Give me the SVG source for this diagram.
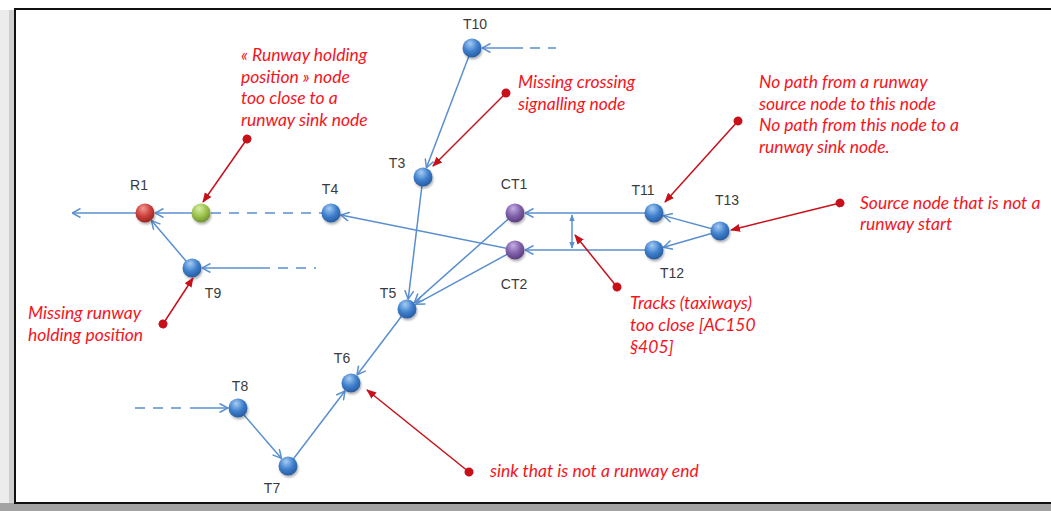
<svg xmlns="http://www.w3.org/2000/svg" width="1051" height="511" viewBox="0 0 1051 511">
  <style>
    .lbl { font-family: "Liberation Sans", Arial, sans-serif; font-size: 14px; fill: #3a3a3a; text-anchor: middle; }
    .note { font-family: "Lato", "Open Sans", sans-serif; font-style: italic; font-size: 17.5px; fill: #f5141e; }
    .edge { stroke: #5a8fcf; stroke-width: 1.5; fill: none; marker-end: url(#open); }
    .plain { stroke: #5a8fcf; stroke-width: 1.5; fill: none; }
    .dash { stroke: #5a8fcf; stroke-width: 1.5; fill: none; stroke-dasharray: 10 8; }
    .ptr { stroke: #c8101a; stroke-width: 1.5; fill: none; marker-start: url(#dot); marker-end: url(#tri); }
  </style>
  <defs>
    <marker id="open" viewBox="0 0 10 10" refX="9.5" refY="5" markerWidth="10" markerHeight="10" markerUnits="userSpaceOnUse" orient="auto">
      <path d="M1,0.5 L9.5,5 L1,9.5" fill="none" stroke="#5a8fcf" stroke-width="1.5"/>
    </marker>
    <marker id="tri" viewBox="0 0 10 10" refX="9" refY="5" markerWidth="10" markerHeight="10" markerUnits="userSpaceOnUse" orient="auto">
      <path d="M0,1 L10,5 L0,9 Z" fill="#c8101a"/>
    </marker>
    <marker id="dot" viewBox="0 0 10 10" refX="5" refY="5" markerWidth="9" markerHeight="9" markerUnits="userSpaceOnUse" orient="auto">
      <circle cx="5" cy="5" r="5" fill="#c8101a"/>
    </marker>
    <marker id="small" viewBox="0 0 10 10" refX="9" refY="5" markerWidth="7" markerHeight="7" markerUnits="userSpaceOnUse" orient="auto">
      <path d="M0,1 L10,5 L0,9 Z" fill="#5a8fcf"/>
    </marker>
    <radialGradient id="gBlue" cx="0.42" cy="0.35" r="0.7" fx="0.4" fy="0.25">
      <stop offset="0" stop-color="#a6cdf5"/>
      <stop offset="0.55" stop-color="#3f7fcc"/>
      <stop offset="1" stop-color="#24579a"/>
    </radialGradient>
    <radialGradient id="gRed" cx="0.42" cy="0.35" r="0.7" fx="0.4" fy="0.25">
      <stop offset="0" stop-color="#f09a96"/>
      <stop offset="0.55" stop-color="#cc3f3a"/>
      <stop offset="1" stop-color="#8e2420"/>
    </radialGradient>
    <radialGradient id="gGreen" cx="0.42" cy="0.35" r="0.7" fx="0.4" fy="0.25">
      <stop offset="0" stop-color="#d8f0a6"/>
      <stop offset="0.55" stop-color="#9cc24c"/>
      <stop offset="1" stop-color="#6a8a2c"/>
    </radialGradient>
    <radialGradient id="gPurple" cx="0.42" cy="0.35" r="0.7" fx="0.4" fy="0.25">
      <stop offset="0" stop-color="#c6aee6"/>
      <stop offset="0.55" stop-color="#7f60a8"/>
      <stop offset="1" stop-color="#55397a"/>
    </radialGradient>
    <filter id="sh" x="-50%" y="-50%" width="200%" height="200%">
      <feDropShadow dx="1" dy="2" stdDeviation="1.2" flood-color="#000" flood-opacity="0.3"/>
    </filter>
  </defs>

  <!-- page frame with shadow -->
  <rect x="0" y="0" width="1051" height="511" fill="#ffffff"/>
  <rect x="0" y="10" width="15" height="501" fill="#ececec"/>
  <rect x="9" y="10" width="5" height="501" fill="#cfcfcf"/>
  <rect x="0" y="503" width="1051" height="8" fill="#a3a3a3"/>
  <rect x="15" y="9" width="1050" height="494" fill="#ffffff" stroke="#111" stroke-width="2"/>

  <!-- connectors -->
  <g id="connectors">
    <line class="edge" x1="145" y1="213" x2="72" y2="213"/>
    <line class="edge" x1="192" y1="213" x2="155" y2="213"/>
    <line class="dash" x1="211" y1="213" x2="322" y2="213"/>
    <line class="edge" x1="192" y1="268" x2="151.5" y2="220.6"/>
    <line class="dash" x1="278" y1="268" x2="316" y2="268"/>
    <line class="edge" x1="270" y1="268" x2="202" y2="268"/>
    <line class="dash" x1="530" y1="48" x2="556" y2="48"/>
    <line class="edge" x1="523" y1="48" x2="482" y2="48"/>
    <line class="edge" x1="472" y1="48" x2="426.4" y2="167.8"/>
    <line class="edge" x1="423" y1="177" x2="408.2" y2="299.1"/>
    <line class="edge" x1="515" y1="213" x2="414.5" y2="302.4"/>
    <line class="edge" x1="515" y1="250" x2="415.8" y2="304.2"/>
    <line class="edge" x1="515" y1="250" x2="340.8" y2="215"/>
    <line class="edge" x1="654" y1="213" x2="525" y2="213"/>
    <line class="edge" x1="654" y1="250" x2="525" y2="250"/>
    <line class="edge" x1="720" y1="231" x2="663.6" y2="215.6"/>
    <line class="edge" x1="720" y1="231" x2="663.6" y2="247.2"/>
    <line class="edge" x1="407" y1="309" x2="357" y2="375"/>
    <line class="edge" x1="238" y1="408" x2="281.5" y2="458.4"/>
    <line class="edge" x1="288" y1="466" x2="345" y2="391"/>
    <line class="dash" x1="135" y1="408" x2="186" y2="408"/>
    <line class="edge" x1="190" y1="408" x2="228" y2="408"/>
    <!-- spacing gauge between the two tracks -->
    <line class="plain" x1="572" y1="232" x2="572" y2="215" marker-end="url(#small)"/>
    <line class="plain" x1="572" y1="232" x2="572" y2="248" marker-end="url(#small)"/>
  </g>

  <!-- nodes -->
  <g id="R1"><circle cx="145" cy="213" r="9.5" fill="url(#gRed)" filter="url(#sh)"/><text class="lbl" x="139" y="190">R1</text></g>
  <g id="HP"><circle cx="201" cy="213" r="9.5" fill="url(#gGreen)" filter="url(#sh)"/></g>
  <g id="T4"><circle cx="331" cy="213" r="9.5" fill="url(#gBlue)" filter="url(#sh)"/><text class="lbl" x="330" y="194">T4</text></g>
  <g id="T9"><circle cx="192" cy="268" r="9.5" fill="url(#gBlue)" filter="url(#sh)"/><text class="lbl" x="213" y="298">T9</text></g>
  <g id="T10"><circle cx="472" cy="48" r="9.5" fill="url(#gBlue)" filter="url(#sh)"/><text class="lbl" x="475" y="29">T10</text></g>
  <g id="T3"><circle cx="423" cy="177" r="9.5" fill="url(#gBlue)" filter="url(#sh)"/><text class="lbl" x="397" y="168">T3</text></g>
  <g id="CT1"><circle cx="515" cy="213" r="9.5" fill="url(#gPurple)" filter="url(#sh)"/><text class="lbl" x="514" y="189">CT1</text></g>
  <g id="CT2"><circle cx="515" cy="250" r="9.5" fill="url(#gPurple)" filter="url(#sh)"/><text class="lbl" x="514" y="289">CT2</text></g>
  <g id="T11"><circle cx="654" cy="213" r="9.5" fill="url(#gBlue)" filter="url(#sh)"/><text class="lbl" x="643" y="195">T11</text></g>
  <g id="T12"><circle cx="654" cy="250" r="9.5" fill="url(#gBlue)" filter="url(#sh)"/><text class="lbl" x="672" y="278">T12</text></g>
  <g id="T13"><circle cx="720" cy="231" r="9.5" fill="url(#gBlue)" filter="url(#sh)"/><text class="lbl" x="727" y="205">T13</text></g>
  <g id="T5"><circle cx="407" cy="309" r="9.5" fill="url(#gBlue)" filter="url(#sh)"/><text class="lbl" x="388" y="298">T5</text></g>
  <g id="T6"><circle cx="351" cy="383" r="9.5" fill="url(#gBlue)" filter="url(#sh)"/><text class="lbl" x="342" y="363">T6</text></g>
  <g id="T8"><circle cx="238" cy="408" r="9.5" fill="url(#gBlue)" filter="url(#sh)"/><text class="lbl" x="240" y="391">T8</text></g>
  <g id="T7"><circle cx="288" cy="466" r="9.5" fill="url(#gBlue)" filter="url(#sh)"/><text class="lbl" x="272" y="493">T7</text></g>

  <!-- annotations -->
  <g id="annotations">
    <line class="ptr" x1="247" y1="139" x2="203" y2="202"/>
    <line class="ptr" x1="506" y1="93" x2="433" y2="166"/>
    <line class="ptr" x1="738" y1="121" x2="665" y2="202"/>
    <line class="ptr" x1="840" y1="203" x2="731" y2="230"/>
    <line class="ptr" x1="163" y1="324" x2="193" y2="278"/>
    <line class="ptr" x1="617" y1="287" x2="575" y2="235"/>
    <line class="ptr" x1="469" y1="472" x2="367" y2="390"/>

    <text class="note" x="241" y="61">« Runway holding</text>
    <text class="note" x="241" y="83">position » node</text>
    <text class="note" x="241" y="104">too close to a</text>
    <text class="note" x="241" y="126">runway sink node</text>

    <text class="note" x="518" y="88">Missing crossing</text>
    <text class="note" x="518" y="110">signalling node</text>

    <text class="note" x="759" y="88">No path from a runway</text>
    <text class="note" x="759" y="110">source node to this node</text>
    <text class="note" x="759" y="131">No path from this node to a</text>
    <text class="note" x="759" y="153">runway sink node.</text>

    <text class="note" x="860" y="209">Source node that is not a</text>
    <text class="note" x="860" y="230">runway start</text>

    <text class="note" x="28" y="319">Missing runway</text>
    <text class="note" x="28" y="341">holding position</text>

    <text class="note" x="630" y="309">Tracks (taxiways)</text>
    <text class="note" x="630" y="331">too close [AC150</text>
    <text class="note" x="630" y="353">§405]</text>

    <text class="note" x="490" y="477">sink that is not a runway end</text>
  </g>
</svg>
